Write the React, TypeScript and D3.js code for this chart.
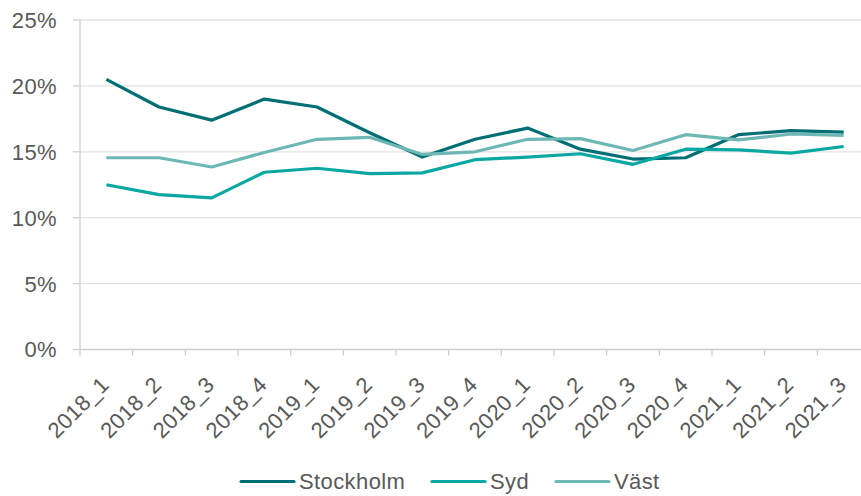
import React from "react";
import * as d3 from "d3";

const categories = ["2018_1","2018_2","2018_3","2018_4","2019_1","2019_2","2019_3","2019_4","2020_1","2020_2","2020_3","2020_4","2021_1","2021_2","2021_3"];
const stockholm = [20.5,18.4,17.4,19.0,18.4,16.45,14.6,15.95,16.8,15.2,14.45,14.55,16.3,16.6,16.5];
const syd = [12.5,11.75,11.5,13.45,13.75,13.35,13.4,14.4,14.6,14.85,14.05,15.2,15.15,14.9,15.4];
const vast = [14.55,14.55,13.85,14.95,15.95,16.1,14.8,15.0,15.95,16.0,15.1,16.3,15.9,16.35,16.25];
const yTicks = [0,5,10,15,20,25];
const seriesNames = ["Stockholm","Syd","Väst"];
const seriesColors = ["#006f75","#0aa7a3","#6db7b4"];

const W = 861, H = 496;
const FONT = "'Liberation Sans', Arial, sans-serif";

export default function App() {
  const x = d3.scaleBand<string>().domain(categories).range([80, 870]).paddingInner(0).paddingOuter(0);
  const y = d3.scaleLinear().domain([0, 25]).range([349.5, 20]);
  const bw = x.bandwidth();
  const cx = (c: string) => (x(c) as number) + bw / 2;
  const allSeries = [stockholm, syd, vast];
  const line = d3.line<number>().x((_, i) => cx(categories[i])).y(d => y(d));

  const legendX = [241, 432, 556];

  return (
    <svg width={W} height={H} style={{ position: "absolute", left: 0, top: 0, background: "#fff" }} fontFamily={FONT} letterSpacing={0.4}>
      {yTicks.map(t => (
        <g key={t}>
          {t > 0 && <line x1={80} x2={870} y1={y(t)} y2={y(t)} stroke="#e3e3e3" strokeWidth={1.3} />}
          <line x1={73} x2={80} y1={y(t)} y2={y(t)} stroke="#cfcfcf" strokeWidth={1.3} />
          <text x={57} y={y(t)} dy="0.36em" textAnchor="end" fontSize={22} fill="#595959">{t}%</text>
        </g>
      ))}
      <line x1={80} x2={80} y1={20} y2={y(0)} stroke="#cfcfcf" strokeWidth={1.3} />
      <line x1={80} x2={870} y1={y(0)} y2={y(0)} stroke="#cfcfcf" strokeWidth={1.3} />
      {categories.map(c => (
        <line key={"t" + c} x1={x(c) as number} x2={x(c) as number} y1={y(0)} y2={y(0) + 6} stroke="#cfcfcf" strokeWidth={1.3} />
      ))}
      {categories.map(c => (
        <text key={"l" + c} transform={`translate(${cx(c) + 4},${386}) rotate(-45)`} textAnchor="end" fontSize={22} fill="#595959">{c}</text>
      ))}
      {allSeries.map((s, i) => (
        <path key={i} d={line(s) as string} fill="none" stroke={seriesColors[i]} strokeWidth={3.2} strokeLinejoin="round" />
      ))}
      {seriesNames.map((n, i) => (
        <g key={n}>
          <line x1={legendX[i]} x2={legendX[i] + 53} y1={481.5} y2={481.5} stroke={seriesColors[i]} strokeWidth={3.2} strokeLinecap="round" />
          <text x={legendX[i] + 58} y={481.5} dy="0.36em" fontSize={22} fill="#595959">{n}</text>
        </g>
      ))}
    </svg>
  );
}
